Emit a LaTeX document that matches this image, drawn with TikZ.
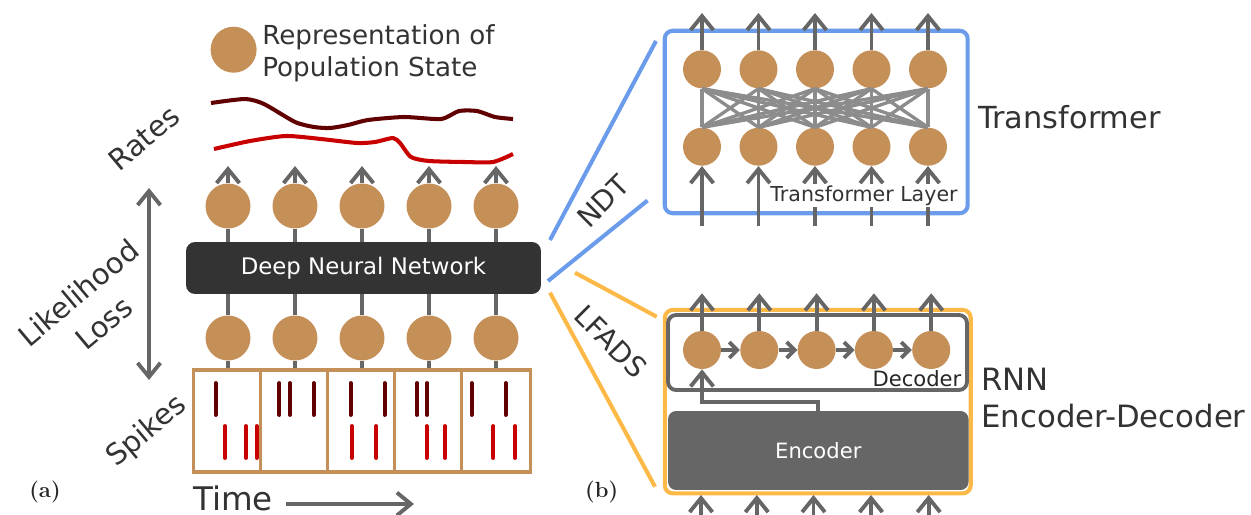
\documentclass[tikz,border=0pt]{standalone}
\usepackage{fontspec}
\setmainfont{DejaVu Sans}
\newfontfamily\panelfont{Latin Modern Roman}
\usetikzlibrary{arrows.meta,positioning}
\definecolor{popbrown}{HTML}{C58F58}
\definecolor{wiregray}{HTML}{666666}
\definecolor{linkgray}{HTML}{8C8C8C}
\definecolor{netdark}{HTML}{333333}
\definecolor{labelgray}{HTML}{333333}
\definecolor{spikedark}{HTML}{600000}
\definecolor{spikered}{HTML}{C80000}
\definecolor{ndtblue}{HTML}{6A9CEB}
\definecolor{lfadsorange}{HTML}{FCB947}

\begin{document}
\begin{tikzpicture}[
  x=0.02cm,y=-0.02cm,
  popnode/.style={circle,fill=popbrown,inner sep=0pt,minimum size=0.9cm},
  popsmall/.style={circle,fill=popbrown,inner sep=0pt,minimum size=0.76cm},
  timebin/.style={draw=popbrown,line width=2pt,fill=white,minimum width=1.38cm,minimum height=2.04cm,inner sep=0pt},
  netbox/.style={fill=netdark,rounded corners=0.18cm,minimum width=7.1cm,minimum height=1.04cm,text=white,font=\fontsize{13}{15}\selectfont},
  wire/.style={line width=2.2pt,wiregray},
  arr/.style={wire,-{Straight Barb[length=8pt,width=13pt]}},
  arrsmall/.style={wire,-{Straight Barb[length=4.5pt,width=9pt]}},
  dblarr/.style={wire,{Straight Barb[length=8pt,width=13pt]}-{Straight Barb[length=8pt,width=13pt]}},
  link/.style={line width=1.9pt,linkgray},
  spike/.style={line width=2.2pt,line cap=round},
  rate/.style={line width=2.3pt,line join=round},
  biglabel/.style={text=labelgray,inner sep=0pt,font=\fontsize{16.5}{22.6}\selectfont},
  smalllabel/.style={text=labelgray,inner sep=1pt,font=\fontsize{11.7}{14}\selectfont},
  zoomline/.style={line width=2.3pt},
  panellabel/.style={text=black!85,inner sep=0pt,font=\panelfont\bfseries\fontsize{12.5}{15}\selectfont}
]
\useasboundingbox (0,0) rectangle (1251,514);

% (a) spikes -> network -> rates
\foreach \i/\x in {1/228,2/295,3/362,4/429,5/496}{
  \node[timebin] (bin\i) at (\x,421) {};
  \node[popnode] (low\i) at (\x,338) {};
  \node[popnode] (up\i) at (\x,206) {};
  \coordinate (rate\i) at (\x,166);
}
\node[netbox] (dnn) at (363.5,268) {Deep Neural Network};
\foreach \i in {1,...,5}{
  \draw[wire] (bin\i.north) -- (low\i.south);
  \draw[wire] (low\i.north) -- (low\i.north |- dnn.south);
  \draw[wire] (up\i.south) -- (up\i.south |- dnn.north);
  \draw[arr] (up\i.north) -- (rate\i);
}
\foreach \x in {215.7,279.3,290,313.7,350.7,384.7,417,427,471.7,505.7}
  \draw[spike,spikedark] (\x,383) -- (\x,415);
\foreach \x in {225,246,256.7,351.7,376.3,426.7,445,493.3,515}
  \draw[spike,spikered] (\x,426) -- (\x,458);

\draw[rate,spikedark] plot[smooth,tension=0.4] coordinates {(211,103) (245,99) (264,104) (295,122) (314,127) (330,128) (348,125) (368,120) (404,117) (441,119) (459,111) (477,111) (495,117) (513,119)};
\draw[rate,spikered] plot[smooth,tension=0.4] coordinates {(214,149) (250,141) (286,136) (321,139) (357,143) (375,142) (393,138) (400,143) (411,157) (429,161) (464,162) (493,162) (513,154)};

\node[popnode,minimum size=0.92cm] (legdot) at (233.6,49.7) {};
\node[text=labelgray,inner sep=0pt,align=left,anchor=north west,font=\fontsize{14.9}{18.4}\selectfont] (legtext) at (262,24.4) {Representation of\\Population State};

\node[biglabel,rotate=40] (rates) at (144,138) {Rates};
\node[biglabel,rotate=40,align=center] (loss) at (91,308) {Likelihood\\Loss};
\node[biglabel,rotate=40] (spikes) at (146.7,431.7) {Spikes};
\coordinate (losstop) at (149,188);
\coordinate (lossbot) at (149,380);
\draw[dblarr] (losstop) -- (lossbot);

\node[biglabel,font=\fontsize{18.5}{22}\selectfont,anchor=base west] (time) at (193,510.5) {Time};
\coordinate (timestart) at (286,504);
\coordinate (timeend) at (414,504);
\draw[arr] (timestart) -- (timeend);

\node[panellabel] (taga) at (45,492.5) {(a)};
\node[panellabel] (tagb) at (601.7,492.5) {(b)};

% (b) transformer
\node[draw=ndtblue,line width=2.3pt,rounded corners=0.16cm,minimum width=6.06cm,minimum height=3.65cm] (ndt) at (816.2,122) {};
\foreach \i/\x in {1/702,2/758.5,3/815,4/871.5,5/928}{
  \node[popsmall] (att\i) at (\x,69.3) {};
  \node[popsmall] (emb\i) at (\x,146.7) {};
  \coordinate (ndtout\i) at (\x,13);
  \coordinate (ndtin\i) at (\x,226);
}
\foreach \i in {1,...,5}
  \foreach \j in {1,...,5}
    \draw[link] (emb\i.north) -- (att\j.south);
\foreach \i in {1,...,5}{
  \draw[arr] (att\i.north) -- (ndtout\i);
  \draw[arr] (ndtin\i) -- (emb\i.south);
}
\node[smalllabel,fill=white] (layer) at (864,195.7) {Transformer Layer};
\node[biglabel,font=\fontsize{17.3}{21}\selectfont,anchor=base west] (tfname) at (978,128) {Transformer};

% zoom lines from the network
\coordinate (ndta) at (550,240);
\coordinate (ndtb) at (656,41);
\coordinate (ndtc) at (548,281);
\coordinate (ndtd) at (647.5,200.5);
\draw[zoomline,ndtblue] (ndta) -- (ndtb);
\draw[zoomline,ndtblue] (ndtc) -- (ndtd);
\coordinate (lfa) at (575,272.7);
\coordinate (lfb) at (656.7,316.7);
\coordinate (lfc) at (550,292.7);
\coordinate (lfd) at (655,486.7);
\draw[zoomline,lfadsorange] (lfa) -- (lfb);
\draw[zoomline,lfadsorange] (lfc) -- (lfd);
\node[biglabel,font=\fontsize{16}{19}\selectfont,rotate=45] (ndtname) at (603,201) {NDT};
\node[biglabel,font=\fontsize{16}{19}\selectfont,rotate=-45] (lfadsname) at (611,341.7) {LFADS};

% (b) rnn encoder-decoder
\node[draw=lfadsorange,line width=2.3pt,rounded corners=0.16cm,minimum width=6.12cm,minimum height=3.67cm] (lfads) at (817.75,401.65) {};
\node[draw=wiregray,line width=2.2pt,fill=white,rounded corners=0.16cm,minimum width=5.98cm,minimum height=1.5cm] (decoder) at (817.5,352.5) {};
\node[fill=wiregray,rounded corners=0.16cm,minimum width=6.01cm,minimum height=1.58cm,text=white,font=\fontsize{12}{14}\selectfont] (encoder) at (818.3,450.5) {Encoder};
\foreach \i/\x in {1/702,2/759.3,3/816.6,4/873.9,5/931.2}{
  \node[popsmall] (gen\i) at (\x,350) {};
  \coordinate (lfout\i) at (\x,293.3);
}
\foreach \i/\j in {1/2,2/3,3/4,4/5}
  \draw[arrsmall] (gen\i.east) -- (gen\j.west);
\foreach \i in {1,...,5}
  \draw[arr] (gen\i.north) -- (lfout\i);
\foreach \i/\x in {1/701,2/756.8,3/813.5,4/871,5/928.7}{
  \coordinate (lfin\i) at (\x,516);
  \coordinate (lftip\i) at (\x,495);
  \draw[arr] (lfin\i) -- (lftip\i);
}
\draw[arr] (encoder.north) |- ([yshift=-0.66cm]gen1.south) -- (gen1.south);
\node[text=black!85,inner sep=0pt,font=\fontsize{12}{14}\selectfont] (declabel) at (917,379) {Decoder};
\node[biglabel,font=\fontsize{17.5}{21.5}\selectfont,align=left,anchor=north west] (rnnname) at (981,367.4) {RNN\\Encoder-Decoder};
\end{tikzpicture}
\end{document}
